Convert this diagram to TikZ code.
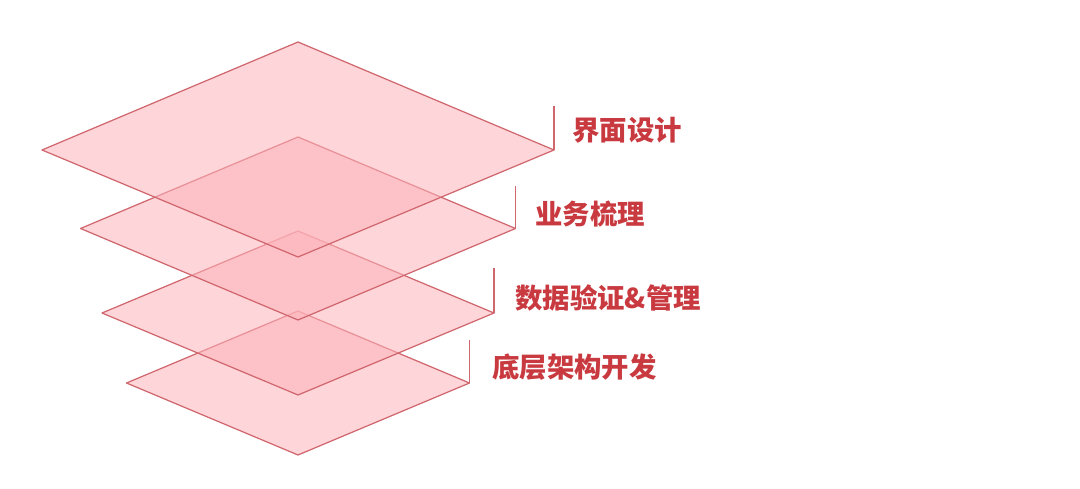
\documentclass[tikz,border=0pt]{standalone}
\usepackage{fontspec}
\newfontfamily\cjk{Noto Sans CJK SC}
\definecolor{layerfill}{HTML}{FDB3BA}
\definecolor{layeredge}{HTML}{D0666E}
\definecolor{labeltext}{HTML}{C93A40}
\begin{document}
\begin{tikzpicture}[x=0.02cm,y=-0.02cm]
\tikzset{layer/.style = {draw=layeredge, line width=0.7pt, fill=layerfill, fill opacity=0.55, line join=round}}
\tikzset{bracket/.style = {-, draw=layeredge, line width=0.7pt}}
\tikzset{caption/.style = {anchor=west, inner sep=0pt, text=labeltext, font=\cjk\bfseries\fontsize{15.6}{18}\selectfont}}
\useasboundingbox (0,0) rectangle (1080,489);
\def \cx {298}
% bottom layer first
\coordinate (r4) at (\cx+171.5,383);
\coordinate (t4) at (\cx+171.5,340);
\draw[layer] (\cx-171.5,383) -- (\cx,311) -- (r4) -- (\cx,455) -- cycle;
\coordinate (r3) at (\cx+196,313);
\coordinate (t3) at (\cx+196,268);
\draw[layer] (\cx-196,313) -- (\cx,231) -- (r3) -- (\cx,395) -- cycle;
\coordinate (r2) at (\cx+217.5,228.5);
\coordinate (t2) at (\cx+217.5,186);
\draw[layer] (\cx-217.5,228.5) -- (\cx,137) -- (r2) -- (\cx,320) -- cycle;
\coordinate (r1) at (\cx+256,150);
\coordinate (t1) at (\cx+256,106);
\draw[layer] (\cx-256,150) -- (\cx,42) -- (r1) -- (\cx,257) -- cycle;
% brackets
\draw[bracket] (r1) -- (t1);
\draw[bracket] (r2) -- (t2);
\draw[bracket] (r3) -- (t3);
\draw[bracket] (r4) -- (t4);
% labels
\node[caption] (l1) at (572,130) {界面设计};
\node[caption] (l2) at (535,214) {业务梳理};
\node[caption] (l3) at (515,298) {数据验证\&管理};
\node[caption] (l4) at (492,367) {底层架构开发};
\end{tikzpicture}
\end{document}
